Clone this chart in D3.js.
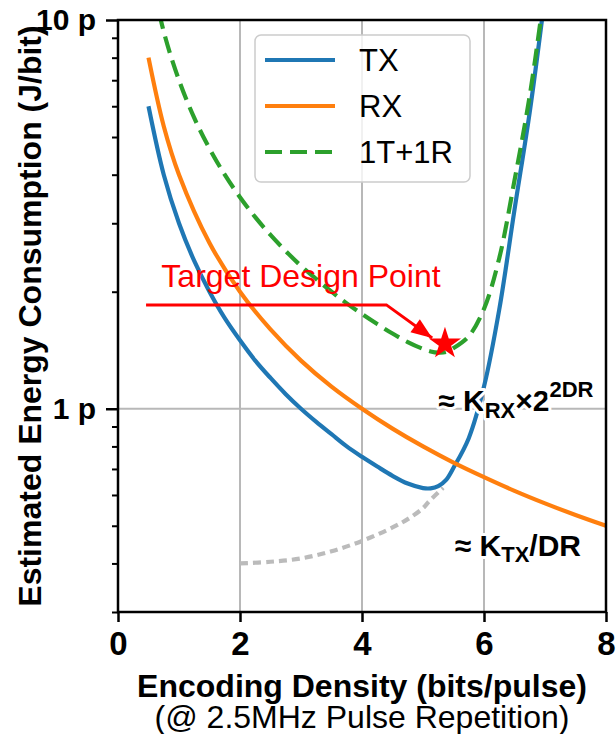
<!DOCTYPE html>
<meta charset="utf-8">
<title>Estimated Energy Consumption vs Encoding Density</title>
<style>
  body { margin: 0; background: #fff; }
  svg { font-family: "Liberation Sans", Arial, Helvetica, sans-serif; }
  .grid line { stroke: #b8b8b8; stroke-width: 2px; }
  .axis path { display: none; }
  .axis line { stroke: #000; stroke-width: 2.5px; }
  .axis text { fill: #000; font-weight: bold; }
  .curve { fill: none; stroke-width: 4.2px; }
  .note { font-weight: bold; fill: #000; stroke: #fff; stroke-width: 6px; paint-order: stroke; stroke-linejoin: round; }
</style>
<svg width="616" height="734"></svg>
<script src="https://cdn.jsdelivr.net/npm/d3@7"></script>
<script>
  // values in pJ/bit
  var txDR  = [0.5, 0.75, 1, 1.25, 1.5, 1.75, 2, 2.25, 2.5, 2.75, 3, 3.25, 3.5, 3.75, 4, 4.25, 4.5, 4.75, 5, 5.125, 5.25, 5.375, 5.5, 5.75, 6, 6.25, 6.5, 6.75, 6.95];
  var txVal = [6.0, 4.0, 3.0, 2.4, 2.0, 1.71, 1.5, 1.33, 1.2, 1.09, 1.0, 0.925, 0.86, 0.80, 0.752, 0.71, 0.672, 0.642, 0.625, 0.624, 0.632, 0.655, 0.705, 0.84, 1.14, 1.8, 3.25, 5.8, 10.0];
  var sumVal = [14.0, 9.33, 7.0, 5.6, 4.67, 4.0, 3.5, 3.11, 2.8, 2.545, 2.33, 2.156, 2.0, 1.867, 1.752, 1.651, 1.561, 1.484, 1.425, 1.404, 1.394, 1.399, 1.432, 1.536, 1.807, 2.44, 3.865, 6.39, 10.58];
  var rxDR  = [0.5, 0.75, 1, 1.5, 2, 2.5, 3, 3.5, 4, 4.5, 5, 5.5, 6, 6.5, 7, 7.5, 8];
  var rxVal = [8.0, 5.33, 4.0, 2.67, 2.0, 1.6, 1.33, 1.14, 1.0, 0.889, 0.8, 0.727, 0.667, 0.615, 0.571, 0.533, 0.5];
  var expDR  = [2, 2.5, 3, 3.5, 4, 4.5, 4.75, 5, 5.1, 5.33];
  var expVal = [0.40, 0.404, 0.412, 0.43, 0.457, 0.495, 0.52, 0.555, 0.578, 0.626];

  var target = { dr: 5.36, val: 1.47 };
  var arrowPts = [[0.46, 1.85], [4.4, 1.85], [5.15, 1.52]];

  var xTicks = [0, 2, 4, 6, 8];
  var yMajor = [1, 10];
  var yMinor = [0.3, 0.4, 0.5, 0.6, 0.7, 0.8, 0.9, 2, 3, 4, 5, 6, 7, 8, 9];

  var series = [
    { name: "TX", dr: txDR, val: txVal, color: "#1f77b4", dash: null },
    { name: "RX", dr: rxDR, val: rxVal, color: "#ff7f0e", dash: null },
    { name: "1T+1R", dr: txDR, val: sumVal, color: "#2ca02c", dash: "17,8" }
  ];

  var svg = d3.select("svg"),
    pLeft = 118, pRight = 606, pTop = 20, pBottom = 612;

  var x = d3.scaleLinear().domain([0, 8]).range([pLeft, pRight]);
  var y = d3.scaleLog().domain([0.3, 10]).range([pBottom, pTop]);

  var defs = svg.append("defs");
  defs.append("clipPath").attr("id", "plot")
    .append("rect").attr("x", pLeft).attr("y", pTop)
    .attr("width", pRight - pLeft).attr("height", pBottom - pTop);

  defs.append("marker")
    .attr("id", "head").attr("markerUnits", "userSpaceOnUse")
    .attr("viewBox", "-22 -9 24 18").attr("markerWidth", 24).attr("markerHeight", 18)
    .attr("refX", 0).attr("refY", 0).attr("orient", "auto")
    .append("path").attr("d", "M-21,-8L0,0L-21,8Z").attr("fill", "red");

  // grid
  var grid = svg.append("g").attr("class", "grid");
  grid.selectAll(".gx").data(xTicks.slice(1, -1)).enter().append("line")
    .attr("x1", x).attr("x2", x).attr("y1", pTop).attr("y2", pBottom);
  grid.selectAll(".gy").data([1]).enter().append("line")
    .attr("x1", pLeft).attr("x2", pRight).attr("y1", y).attr("y2", y);

  var line = d3.line()
    .x(function(d) { return x(d[0]); })
    .y(function(d) { return y(d[1]); })
    .curve(d3.curveCatmullRom.alpha(0.5));

  var plot = svg.append("g").attr("clip-path", "url(#plot)");

  plot.append("path")
    .attr("class", "curve")
    .attr("d", line(d3.zip(expDR, expVal)))
    .attr("stroke", "#bbbbbb")
    .attr("stroke-dasharray", "8,5");

  series.forEach(function(s) {
    plot.append("path")
      .attr("class", "curve")
      .attr("d", line(d3.zip(s.dr, s.val)))
      .attr("stroke", s.color)
      .attr("stroke-dasharray", s.dash);
  });

  // target design point
  svg.append("path")
    .attr("d", d3.line().x(function(d) { return x(d[0]); }).y(function(d) { return y(d[1]); })(arrowPts))
    .attr("fill", "none").attr("stroke", "red").attr("stroke-width", 3)
    .attr("marker-end", "url(#head)");

  svg.append("path")
    .attr("transform", "translate(" + x(target.dr) + "," + y(target.val) + ")")
    .attr("d", d3.symbol(d3.symbolStar, 320)())
    .attr("fill", "red");

  svg.append("text")
    .attr("x", x(3.0)).attr("y", y(2.06))
    .attr("text-anchor", "middle")
    .attr("fill", "red")
    .style("font-size", "32px")
    .text("Target Design Point");

  // legend
  var legend = svg.append("g").attr("transform", "translate(255,35)");
  legend.append("rect")
    .attr("width", 215).attr("height", 147).attr("rx", 6)
    .attr("fill", "#fff").attr("fill-opacity", 0.8)
    .attr("stroke", "#cccccc").attr("stroke-width", 1.5);
  var item = legend.selectAll(".item").data(series).enter().append("g")
    .attr("transform", function(d, i) { return "translate(0," + (25 + i * 46) + ")"; });
  item.append("line")
    .attr("x1", 10).attr("x2", 80)
    .attr("stroke", function(d) { return d.color; })
    .attr("stroke-width", 4.2)
    .attr("stroke-dasharray", function(d) { return d.dash; });
  item.append("text")
    .attr("x", 104).attr("dy", "0.36em")
    .style("font-size", "31px")
    .text(function(d) { return d.name; });

  // asymptote notes
  var n1 = svg.append("text").attr("class", "note")
    .attr("x", x(5.25)).attr("y", y(0.985)).style("font-size", "30px");
  n1.append("tspan").text("\u2248 K");
  n1.append("tspan").attr("dy", 7).style("font-size", "22px").text("RX");
  n1.append("tspan").attr("dy", -7).text("\u00d72");
  n1.append("tspan").attr("dy", -14).style("font-size", "22px").text("2DR");

  var n2 = svg.append("text").attr("class", "note")
    .attr("x", x(5.52)).attr("y", y(0.418)).style("font-size", "30px");
  n2.append("tspan").text("\u2248 K");
  n2.append("tspan").attr("dy", 6).style("font-size", "22px").text("TX");
  n2.append("tspan").attr("dy", -6).text("/DR");

  // axes
  var xAxis = svg.append("g").attr("class", "axis")
    .attr("transform", "translate(0," + pBottom + ")")
    .call(d3.axisBottom(x).tickValues(xTicks).tickSize(10).tickPadding(10).tickFormat(d3.format("d")));
  xAxis.selectAll("text").style("font-size", "33px");

  var yAxis = svg.append("g").attr("class", "axis")
    .attr("transform", "translate(" + pLeft + ",0)")
    .call(d3.axisLeft(y).tickValues(yMajor).tickSize(12).tickPadding(10)
      .tickFormat(function(d) { return d + " p"; }));
  yAxis.selectAll("text").style("font-size", "30px");

  svg.append("g").attr("class", "axis")
    .attr("transform", "translate(" + pLeft + ",0)")
    .call(d3.axisLeft(y).tickValues(yMinor).tickSize(6).tickFormat(""))
    .selectAll("line").style("stroke-width", "2px");

  svg.append("rect")
    .attr("x", pLeft).attr("y", pTop).attr("width", pRight - pLeft).attr("height", pBottom - pTop)
    .attr("fill", "none").attr("stroke", "#000").attr("stroke-width", 2.5);

  // titles
  svg.append("text")
    .attr("transform", "translate(41," + (pTop + pBottom) / 2 + ")rotate(-90)")
    .attr("text-anchor", "middle")
    .style("font-size", "32px").style("font-weight", "bold")
    .text("Estimated Energy Consumption (J/bit)");

  svg.append("text")
    .attr("x", (pLeft + pRight) / 2).attr("y", 697)
    .attr("text-anchor", "middle")
    .style("font-size", "32px").style("font-weight", "bold")
    .text("Encoding Density (bits/pulse)");

  svg.append("text")
    .attr("x", (pLeft + pRight) / 2).attr("y", 728)
    .attr("text-anchor", "middle")
    .style("font-size", "32px")
    .text("(@ 2.5MHz Pulse Repetition)");
</script>
